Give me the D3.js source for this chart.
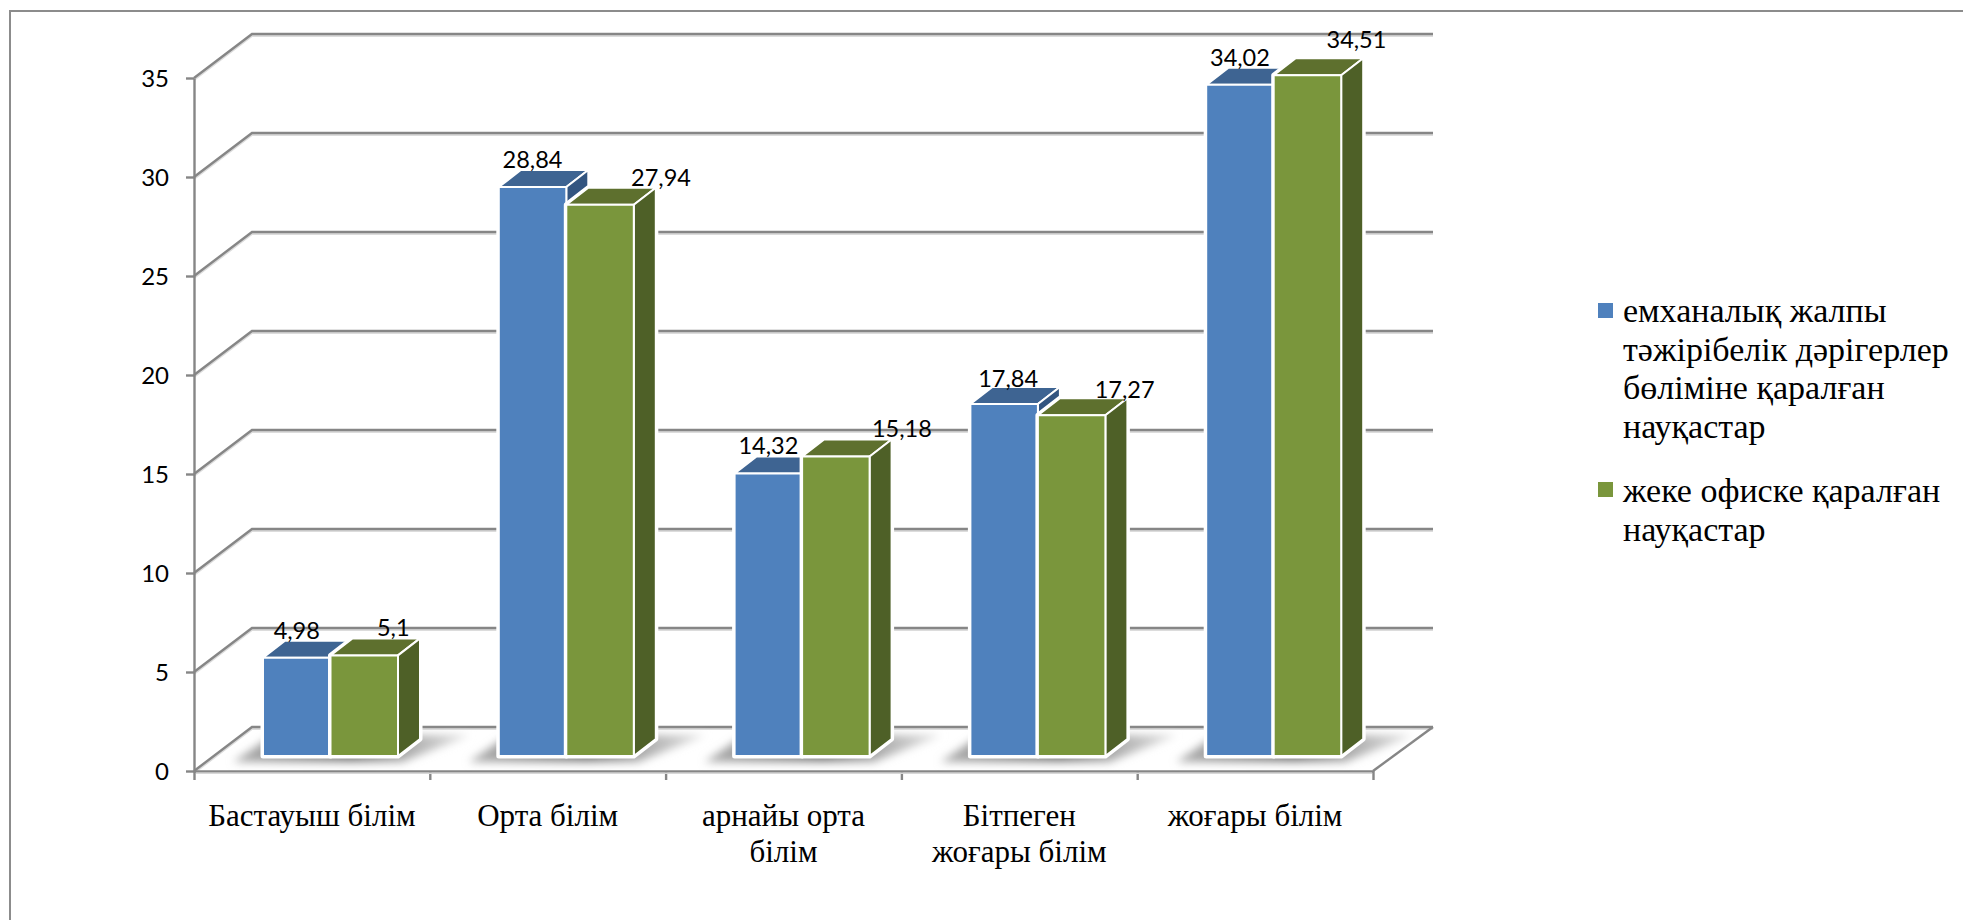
<!DOCTYPE html>
<html>
<head>
<meta charset="utf-8">
<script src="https://cdn.jsdelivr.net/npm/d3@7/dist/d3.min.js"></script>
<style>
  html, body { margin: 0; background: #fff; overflow: hidden; }
  svg { display: block; }
</style>
</head>
<body>
<svg id="chart" width="1963" height="920"></svg>
<script>
// Education level of patients, by type of practice they attended
const categories = [
  ["Бастауыш білім"],
  ["Орта білім"],
  ["арнайы орта", "білім"],
  ["Бітпеген", "жоғары білім"],
  ["жоғары білім"]
];
const clinicValues = [4.98, 28.84, 14.32, 17.84, 34.02];
const officeValues = [5.1, 27.94, 15.18, 17.27, 34.51];
const clinicLabels = ["4,98", "28,84", "14,32", "17,84", "34,02"];
const officeLabels = ["5,1", "27,94", "15,18", "17,27", "34,51"];
const yTicks = [0, 5, 10, 15, 20, 25, 30, 35];
const legendClinic = ["емханалық жалпы", "тәжірібелік дәрігерлер", "бөліміне қаралған", "науқастар"];
const legendOffice = ["жеке офиске қаралған", "науқастар"];

// Hand placement of the value labels, which sit apart from their bars
const clinicLabelShift = [[0, 0], [0, 0], [0, 0], [4, 2], [0, 0]];
const officeLabelShift = [[29, 0], [61, 0], [66, -1], [53, 2], [49, -8]];

const SANS = "Lato, 'Open Sans', sans-serif";
const SERIF = "'Liberation Serif', serif";
const GRID = "#868686";
const DEPTH_WALL = { x: 58, y: -44 };
const DEPTH_BAR = { x: 22, y: -17 };
const palette = {
  clinic: { front: "#4F81BD", top: "#3E6492", side: "#335580" },
  office: { front: "#7A963C", top: "#5E702E", side: "#4E6027" }
};

const svg = d3.select("#chart");

// Scales: axis on the front plane, bars stand further back on the floor
const y = d3.scaleLinear().domain([0, 35]).range([771, 78]);
const barY = d3.scaleLinear().domain([0, 35]).range([756, 65.5]);
const x = d3.scaleBand().domain(d3.range(categories.length)).range([194, 1373]);
const inner = d3.scaleBand().domain([0, 1]).range([69, 204]);
const tickX = d3.scaleLinear().domain([0, categories.length]).range([194, 1373]);

// Soft shadow used under the bars
const defs = svg.append("defs");
defs.append("filter").attr("id", "floorBlur")
  .attr("x", "-20%").attr("y", "-40%").attr("width", "140%").attr("height", "180%")
  .append("feGaussianBlur").attr("stdDeviation", 4);
const fade = defs.append("linearGradient").attr("id", "floorFade")
  .attr("x1", 0).attr("x2", 1).attr("y1", 0).attr("y2", 0);
fade.append("stop").attr("offset", "0%").attr("stop-color", "#b0b0b0");
fade.append("stop").attr("offset", "50%").attr("stop-color", "#7c7c7c");
fade.append("stop").attr("offset", "100%").attr("stop-color", "#e4e4e4");

// Outer frame, open on the right and at the bottom
svg.append("path")
  .attr("d", "M10,920 V11 H1963")
  .attr("fill", "none").attr("stroke", "#8c8c8c").attr("stroke-width", 2);

// Gridlines with a faint light edge beneath them
const grid = svg.append("g").attr("fill", "none");
const gridPath = v => {
  const a = y(v);
  return `M194,${a} L${194 + DEPTH_WALL.x},${a + DEPTH_WALL.y} H1433`;
};
grid.selectAll("path.under").data(yTicks).join("path")
  .attr("class", "under")
  .attr("d", v => gridPath(v)).attr("transform", "translate(0,2)")
  .attr("stroke", "#dcdcdc").attr("stroke-width", 2);
grid.selectAll("path.line").data(yTicks).join("path")
  .attr("class", "line")
  .attr("d", v => gridPath(v))
  .attr("stroke", GRID).attr("stroke-width", 2.4);

// Floor outline
svg.append("path")
  .attr("d", `M1373,${y(0)} L${1373 + 60},${y(0) + DEPTH_WALL.y}`)
  .attr("fill", "none").attr("stroke", GRID).attr("stroke-width", 2.4);

// Value axis
const yAxis = svg.append("g").attr("transform", "translate(194,0)")
  .call(d3.axisLeft(y).tickValues(yTicks).tickSize(8).tickSizeOuter(0).tickPadding(17));
yAxis.selectAll("path, line").attr("stroke", GRID).attr("stroke-width", 2.4);
yAxis.selectAll("text")
  .attr("font-family", SANS).attr("font-size", 24).attr("fill", "#000")
  .attr("dy", "0.36em");

// Category axis: ticks between the groups
const xAxis = svg.append("g").attr("transform", `translate(0,${y(0)})`)
  .call(d3.axisBottom(tickX).tickValues(d3.range(categories.length + 1)).tickSize(9).tickSizeOuter(0).tickFormat(""));
xAxis.selectAll("path, line").attr("stroke", GRID).attr("stroke-width", 2.4);
svg.append("path").attr("d", `M196,${y(0) + 2.2} H1372`).attr("stroke", "#d8d8d8").attr("stroke-width", 1.5);

// Floor shadow of each group
const base = barY(0);
svg.append("g").selectAll("polygon").data(categories).join("polygon")
  .attr("points", (d, i) => {
    const x0 = x(i) + inner(0), x1 = x(i) + inner(1) + inner.bandwidth();
    return [[x0 - 30, base + 6], [x1 + 4, base + 6], [x1 + 72, base - 21], [x0 + 10, base - 21]].join(" ");
  })
  .attr("fill", "url(#floorFade)").attr("filter", "url(#floorBlur)");

// One 3-D column: top and side faces follow the front face
function drawColumns(values, idx, colors) {
  const g = svg.append("g").attr("stroke", "#fff").attr("stroke-width", 2).attr("stroke-linejoin", "round");
  const cols = g.selectAll("g").data(values).join("g");
  const dx = DEPTH_BAR.x, dy = DEPTH_BAR.y;
  const left = i => x(i) + inner(idx);
  const w = inner.bandwidth();
  // white backing keeps a small gap between gridlines and the column
  cols.append("path")
    .attr("d", (v, i) => {
      const l = left(i), r = l + w, t = barY(v);
      return `M${l},${base} V${t} L${l + dx},${t + dy} H${r + dx} V${base + dy} L${r},${base} Z`;
    })
    .attr("fill", "#fff").attr("stroke-width", 5);
  cols.append("path")
    .attr("d", (v, i) => {
      const l = left(i), r = l + w, t = barY(v);
      return `M${l},${t} L${l + dx},${t + dy} H${r + dx} L${r},${t} Z`;
    })
    .attr("fill", colors.top);
  cols.append("path")
    .attr("d", (v, i) => {
      const r = left(i) + w, t = barY(v);
      return `M${r},${t} L${r + dx},${t + dy} V${base + dy} L${r},${base} Z`;
    })
    .attr("fill", colors.side);
  cols.append("rect")
    .attr("x", (v, i) => left(i)).attr("y", v => barY(v))
    .attr("width", w).attr("height", v => base - barY(v))
    .attr("fill", colors.front);
}
drawColumns(clinicValues, 0, palette.clinic);
drawColumns(officeValues, 1, palette.office);

// Value labels
function drawLabels(values, labels, shift, idx) {
  svg.append("g")
    .attr("font-family", SANS).attr("font-size", 23.5).attr("fill", "#000").attr("text-anchor", "middle")
    .selectAll("text").data(values).join("text")
    .attr("x", (v, i) => x(i) + inner(idx) + inner.bandwidth() / 2 + shift[i][0])
    .attr("y", (v, i) => barY(v) - 19 + shift[i][1])
    .text((v, i) => labels[i]);
}
drawLabels(clinicValues, clinicLabels, clinicLabelShift, 0);
drawLabels(officeValues, officeLabels, officeLabelShift, 1);

// Category names
const cat = svg.append("g")
  .attr("font-family", SERIF).attr("font-size", 31).attr("fill", "#000").attr("text-anchor", "middle")
  .selectAll("text").data(categories).join("text")
  .attr("x", (d, i) => x(i) + x.bandwidth() / 2).attr("y", 826);
cat.selectAll("tspan").data(d => d).join("tspan")
  .attr("x", function () { return d3.select(this.parentNode).attr("x"); })
  .attr("dy", (d, i) => i ? 36 : 0)
  .text(d => d);

// Legend
const legend = svg.append("g").attr("font-family", SERIF).attr("font-size", 34).attr("fill", "#000");
[
  { lines: legendClinic, color: palette.clinic.front, top: 303, first: 322 },
  { lines: legendOffice, color: palette.office.front, top: 482, first: 502 }
].forEach(item => {
  legend.append("rect")
    .attr("x", 1598).attr("y", item.top).attr("width", 15).attr("height", 15)
    .attr("fill", item.color);
  legend.append("g").selectAll("text").data(item.lines).join("text")
    .attr("x", 1623).attr("y", (d, i) => item.first + i * 38.6)
    .text(d => d);
});
</script>
</body>
</html>
